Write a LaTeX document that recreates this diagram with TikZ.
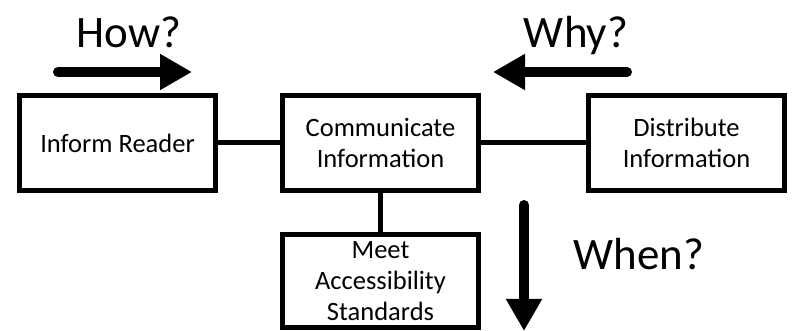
\documentclass[tikz,border=0pt]{standalone}
\usepackage{fontspec}
\setmainfont{Carlito}
\usepackage{tikz}
\usetikzlibrary{arrows.meta, positioning}

\begin{document}
\begin{tikzpicture}[
    box/.style={rectangle, draw=black, line width=5pt, minimum width=196pt,
                minimum height=95pt, inner sep=1pt, align=center,
                font=\fontsize{26.5}{31}\selectfont},
    link/.style={line width=5pt},
    arrow/.style={-{Triangle[length=32pt, width=34pt]}, line width=10pt, line cap=round},
    question/.style={font=\fontsize{45}{54}\selectfont, anchor=base}
]
    \useasboundingbox (0,0) rectangle (793pt,-331pt);

    \node[box] (inform) at (117.5pt,-143pt) {Inform Reader};
    \node[box, right=62pt of inform] (comm) {Communicate\\Information};
    \node[box, right=105pt of comm] (distr) {Distribute\\Information};
    \node[box, below=39pt of comm, minimum height=93pt] (meet) {Meet\\Accessibility\\Standards};

    \draw[link] (inform) -- (comm);
    \draw[link] (comm) -- (distr);
    \draw[link] (comm) -- (meet);

    % question arrows
    \node[question] (how) at (129pt,-48pt) {How?};
    \node[question] (why) at (576pt,-48pt) {Why?};
    \node[question] (when) at (639pt,-270pt) {When?};

    \coordinate (how start) at (58pt,-72pt);
    \coordinate (how end) at (192pt,-72pt);
    \coordinate (why start) at (627pt,-72pt);
    \coordinate (why end) at (493pt,-72pt);
    \coordinate (when start) at (524pt,-205pt);
    \coordinate (when end) at (524pt,-331pt);

    \draw[arrow] (how start) -- (how end);
    \draw[arrow] (why start) -- (why end);
    \draw[arrow] (when start) -- (when end);
\end{tikzpicture}
\end{document}
